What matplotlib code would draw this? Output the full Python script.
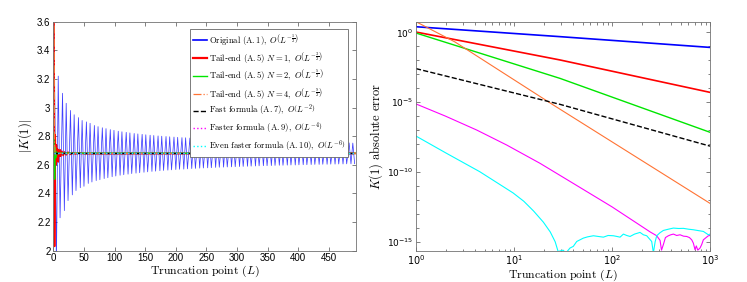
import numpy as np
import matplotlib
matplotlib.use("Agg")
import matplotlib.pyplot as plt
from matplotlib.ticker import FixedLocator, NullFormatter

plt.rcParams['mathtext.fontset'] = 'cm'
plt.rcParams['font.family'] = ['Liberation Sans', 'DejaVu Sans']

# ---------------- Left panel data: |K(1)| vs truncation point L ----------------
blue_L = [1, 5, 8, 11, 15, 18, 21, 24, 28, 31, 34, 37, 41, 44, 47, 50, 54, 57, 60, 63,
          67, 70, 73, 76, 80, 83, 86, 89, 93, 96, 99, 102, 106, 109, 112, 115, 119, 122,
          125, 128, 132, 135, 138, 141, 145, 148, 151, 154, 158, 161, 164, 167, 171, 174,
          177, 180, 184, 187, 190, 193, 197, 200, 203, 206, 210, 213, 216, 219, 223, 226,
          229, 232, 236, 239, 242, 245, 249, 252, 255, 258, 262, 265, 268, 271, 275, 278,
          281, 284, 288, 291, 294, 297, 301, 304, 307, 310, 314, 317, 320, 323, 327, 330,
          333, 336, 340, 343, 346, 349, 353, 356, 359, 362, 366, 369, 372, 375, 379, 382,
          385, 388, 392, 395, 398, 401, 405, 408, 411, 414, 418, 421, 424, 427, 431, 434,
          437, 440, 444, 447, 450, 453, 457, 460, 463, 466, 470, 473, 476, 479, 483, 486,
          489, 492]
blue_K = [3.70, 1.90, 3.22, 2.23, 3.10, 2.28, 3.03, 2.35, 2.98, 2.39, 2.95, 2.42, 2.93,
          2.44, 2.91, 2.45, 2.90, 2.47, 2.89, 2.48, 2.875, 2.49, 2.867, 2.496, 2.859, 2.504,
          2.853, 2.51, 2.846, 2.517, 2.841, 2.522, 2.835, 2.527, 2.831, 2.531, 2.827, 2.535,
          2.823, 2.539, 2.819, 2.542, 2.816, 2.545, 2.813, 2.548, 2.81, 2.551, 2.807, 2.554,
          2.805, 2.556, 2.802, 2.559, 2.80, 2.561, 2.798, 2.563, 2.796, 2.565, 2.794, 2.567,
          2.792, 2.569, 2.79, 2.57, 2.789, 2.572, 2.787, 2.574, 2.786, 2.575, 2.784, 2.577,
          2.783, 2.578, 2.781, 2.579, 2.78, 2.58, 2.779, 2.582, 2.778, 2.583, 2.776, 2.584,
          2.775, 2.585, 2.774, 2.586, 2.773, 2.587, 2.772, 2.588, 2.771, 2.589, 2.77, 2.59,
          2.769, 2.591, 2.768, 2.592, 2.768, 2.593, 2.767, 2.594, 2.766, 2.594, 2.765, 2.595,
          2.764, 2.596, 2.764, 2.597, 2.763, 2.597, 2.762, 2.598, 2.762, 2.599, 2.761, 2.599,
          2.76, 2.60, 2.76, 2.601, 2.759, 2.601, 2.758, 2.602, 2.758, 2.603, 2.757, 2.603,
          2.757, 2.604, 2.756, 2.604, 2.755, 2.605, 2.755, 2.605, 2.754, 2.606, 2.754, 2.606,
          2.753, 2.607, 2.753, 2.607, 2.752, 2.608]

red_L = [1, 2, 3, 4, 5, 6, 7, 8, 9, 10, 11, 12, 14, 16, 18, 21, 24, 28, 32, 36, 42, 50, 494]
red_K = [3.70, 2.03, 2.81, 2.60, 2.74, 2.64, 2.71, 2.62, 2.70, 2.66, 2.705, 2.66, 2.695,
         2.665, 2.69, 2.67, 2.688, 2.673, 2.685, 2.676, 2.683, 2.678, 2.68]

green_L = [1, 2, 3, 4, 5, 6, 8, 494]
green_K = [2.82, 2.50, 2.72, 2.65, 2.69, 2.675, 2.682, 2.68]

orange_L = [1, 2, 3, 5, 494]
orange_K = [3.80, 2.77, 2.67, 2.68, 2.68]

fast_L = [1, 494]
fast_K = [2.68, 2.68]
faster_L = [1, 494]
faster_K = [2.68, 2.68]
even_L = [1, 494]
even_K = [2.68, 2.68]

err_blue_logL = [0, 1.47, 3]
err_blue_log = [0.40, -0.31, -1.08]
err_red_logL = [0, 1.47, 3]
err_red_log = [0.02, -1.98, -4.30]
err_green_logL = [0, 1.47, 3]
err_green_log = [-0.05, -3.30, -7.16]
err_orange_logL = [0, 0.4, 1.4, 3]
err_orange_log = [0.76, -0.70, -5.20, -12.25]
err_fast_logL = [0, 1.47, 3]
err_fast_log = [-2.60, -5.16, -8.15]
err_faster_logL = [0, 0.3, 0.62, 0.925, 1.265, 1.6, 2.0, 2.39, 2.456, 2.49, 2.505, 2.524,
                   2.545, 2.575, 2.6, 2.626, 2.66, 2.694, 2.73, 2.762, 2.79, 2.813, 2.83,
                   2.847, 2.86, 2.875, 2.898, 2.915, 2.932, 2.96, 2.983, 3.0]
err_faster_log = [-5.13, -6.0, -7.0, -8.07, -9.38, -10.8, -12.5, -14.3, -14.57, -14.9,
                  -15.6, -15.2, -14.7, -14.57, -14.5, -14.45, -14.55, -14.5, -14.6, -14.62,
                  -14.7, -14.86, -15.1, -15.57, -15.3, -15.6, -15.45, -15.2, -14.86, -14.7,
                  -14.57, -14.55]
err_even_logL = [0, 0.31, 0.65, 0.8, 0.99, 1.1, 1.2, 1.3, 1.37, 1.42, 1.45, 1.5, 1.53,
                 1.571, 1.605, 1.64, 1.707, 1.75, 1.81, 1.86, 1.912, 1.96, 2.014, 2.05,
                 2.082, 2.116, 2.15, 2.184, 2.23, 2.286, 2.32, 2.354, 2.405, 2.422, 2.44,
                 2.456, 2.49, 2.524, 2.575, 2.626, 2.68, 2.728, 2.78, 2.83, 2.88, 2.932,
                 2.983, 3.0]
err_even_log = [-7.43, -8.66, -9.98, -10.65, -11.5, -12.1, -12.8, -13.6, -14.3, -15.0,
                -15.7, -15.6, -15.8, -15.45, -15.33, -14.98, -14.74, -14.65, -14.57, -14.62,
                -14.67, -14.55, -14.57, -14.62, -14.67, -14.45, -14.55, -14.62, -14.45,
                -14.33, -14.5, -14.57, -14.98, -15.8, -15.0, -14.57, -14.35, -14.19, -14.1,
                -14.02, -14.05, -14.04, -14.1, -14.14, -14.2, -14.26, -14.5, -14.45]

labels = [
    r'$\mathrm{Original\ (A.1)},\ O\left(L^{-\frac{1}{2}}\right)$',
    r'$\mathrm{Tail}$-$\mathrm{end\ (A.5)}\ N=1,\ O\left(L^{-\frac{3}{2}}\right)$',
    r'$\mathrm{Tail}$-$\mathrm{end\ (A.5)}\ N=2,\ O\left(L^{-\frac{5}{2}}\right)$',
    r'$\mathrm{Tail}$-$\mathrm{end\ (A.5)}\ N=4,\ O\left(L^{-\frac{9}{2}}\right)$',
    r'$\mathrm{Fast\ formula\ (A.7)},\ O\left(L^{-2}\right)$',
    r'$\mathrm{Faster\ formula\ (A.9)},\ O\left(L^{-4}\right)$',
    r'$\mathrm{Even\ faster\ formula\ (A.10)},\ O\left(L^{-6}\right)$',
]

c_blue = (0, 0, 1)
c_red = (1, 0, 0)
c_green = (0, 0.9, 0)
c_orange = (1, 0.45, 0.2)
c_black = (0, 0, 0)
c_mag = (1, 0, 1)
c_cyan = (0, 1, 1)

fig = plt.figure(figsize=(7.47, 2.82), dpi=100)
axL = fig.add_axes([0.0714, 0.111, 0.405, 0.812])
axR = fig.add_axes([0.5569, 0.111, 0.3936, 0.812])

# Left panel
axL.plot(blue_L, blue_K, color=c_blue, lw=0.55, alpha=0.75)
axL.plot(red_L, red_K, color=c_red, lw=1.2)
axL.plot(green_L, green_K, color=c_green, lw=1.0)
axL.plot(orange_L, orange_K, color=c_orange, lw=0.9, ls='-.')
axL.plot(fast_L, fast_K, color=c_black, lw=1.0, ls='--')
axL.plot(faster_L, faster_K, color=c_mag, lw=1.0, ls=':')
axL.plot(even_L, even_K, color=c_cyan, lw=1.0, ls=':')
axL.set_xlim(0, 494)
axL.set_ylim(2, 3.6)
axL.set_xticks([0, 50, 100, 150, 200, 250, 300, 350, 400, 450])
axL.set_yticks([2, 2.2, 2.4, 2.6, 2.8, 3, 3.2, 3.4, 3.6])
axL.set_yticklabels(['2', '2.2', '2.4', '2.6', '2.8', '3', '3.2', '3.4', '3.6'])
axL.set_xlabel(r'$\mathrm{Truncation\ point}\ (L)$', fontsize=8.5, labelpad=0)
axL.set_ylabel(r'$|K(1)|$', fontsize=9, labelpad=2)

handles_leg = [
    plt.Line2D([], [], color=c_blue, lw=1.2),
    plt.Line2D([], [], color=c_red, lw=1.6),
    plt.Line2D([], [], color=c_green, lw=1.0),
    plt.Line2D([], [], color=c_orange, lw=0.9, ls='-.'),
    plt.Line2D([], [], color=c_black, lw=1.0, ls='--'),
    plt.Line2D([], [], color=c_mag, lw=1.0, ls=':'),
    plt.Line2D([], [], color=c_cyan, lw=1.0, ls=':'),
]
leg = axL.legend(handles_leg, labels, loc='upper right', bbox_to_anchor=(0.975, 0.968),
                 borderaxespad=0, fontsize=6.2, handlelength=1.6, handletextpad=0.2,
                 labelspacing=0.32, borderpad=0.35, fancybox=False, framealpha=1,
                 edgecolor='0.4')
leg.get_frame().set_linewidth(0.6)

# Right panel
def plot_err(logL, logE, **kw):
    axR.plot(10 ** np.array(logL), 10 ** np.array(logE), **kw)

plot_err(err_blue_logL, err_blue_log, color=c_blue, lw=1.2)
plot_err(err_red_logL, err_red_log, color=c_red, lw=1.2)
plot_err(err_green_logL, err_green_log, color=c_green, lw=1.0)
plot_err(err_orange_logL, err_orange_log, color=c_orange, lw=0.8)
plot_err(err_fast_logL, err_fast_log, color=c_black, lw=1.0, ls='--')
plot_err(err_faster_logL, err_faster_log, color=c_mag, lw=0.8)
plot_err(err_even_logL, err_even_log, color=c_cyan, lw=0.8)
axR.set_xscale('log')
axR.set_yscale('log')
axR.set_xlim(1, 1000)
axR.set_ylim(10 ** -15.64, 10 ** 0.76)
axR.xaxis.set_major_locator(FixedLocator([1, 10, 100, 1000]))
axR.set_xticklabels([r'$10^{0}$', r'$10^{1}$', r'$10^{2}$', r'$10^{3}$'],
                    math_fontfamily='dejavusans')
axR.xaxis.set_minor_locator(FixedLocator([m * 10 ** d for d in range(3) for m in range(2, 10)]))
axR.xaxis.set_minor_formatter(NullFormatter())
axR.yaxis.set_major_locator(FixedLocator([1e-15, 1e-10, 1e-5, 1e0]))
axR.set_yticklabels([r'$10^{-15}$', r'$10^{-10}$', r'$10^{-5}$', r'$10^{0}$'],
                    math_fontfamily='dejavusans')
axR.yaxis.set_minor_locator(FixedLocator([10.0 ** k for k in range(-15, 1)]))
axR.yaxis.set_minor_formatter(NullFormatter())
axR.set_xlabel(r'$\mathrm{Truncation\ point}\ (L)$', fontsize=8.5, labelpad=0)
axR.set_ylabel(r'$K(1)\ \mathrm{absolute\ error}$', fontsize=9)

for ax in (axL, axR):
    ax.tick_params(which='both', direction='in', top=True, right=True, labelsize=7,
                   width=0.5, color='0.3', pad=2)
    ax.tick_params(which='major', length=3)
    ax.tick_params(which='minor', length=1.8)
    for s in ax.spines.values():
        s.set_linewidth(0.6)
        s.set_color('0.45')
axR.tick_params(axis='y', labelsize=6.5)
axR.yaxis.set_label_coords(-0.105, 0.5)

fig.savefig('out.png', dpi=100)
